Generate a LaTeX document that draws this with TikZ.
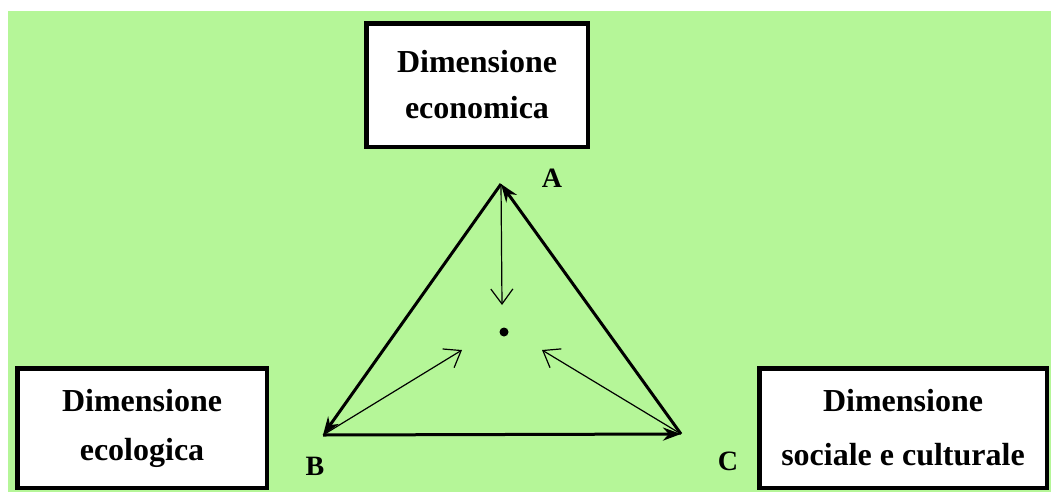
\documentclass[tikz,border=0pt]{standalone}
\usepackage{fontspec}
\setmainfont{Liberation Serif}
\usetikzlibrary{arrows.meta, positioning, calc}
\definecolor{bggreen}{RGB}{181,246,152}

\begin{document}
\begin{tikzpicture}[x=1pt, y=-1pt,
    dimbox/.style={rectangle, draw, line width=4.5pt, fill=white, align=center, inner sep=0pt, font=\fontsize{32}{46}\selectfont\bfseries},
    vlabel/.style={font=\fontsize{28}{30}\selectfont\bfseries},
    sidearrow/.style={-{Stealth[length=18pt, width=13pt]}, line width=3pt},
    inarrow/.style={-{Straight Barb[length=15pt, width=22pt]}, line width=1.2pt}
]

% Background
\useasboundingbox (0,0) rectangle (1051,493);
\fill[white] (0,0) rectangle (1051,493);
\fill[bggreen] (8,11) rectangle (1051,492);

% Nodes
\node[dimbox, minimum width=221.5pt, minimum height=123.5pt] (econ) at (477,85) {Dimensione\\economica};
\node[dimbox, minimum width=249.5pt, minimum height=119.5pt] (ecol) at (142,428) {Dimensione\\[3pt]ecologica};
\node[dimbox, minimum width=287.5pt, minimum height=119.5pt] (soc) at (903,428) {Dimensione\\[8pt]sociale e culturale};

\coordinate (A) at (501,184);
\coordinate (B) at (323,435);
\coordinate (C) at (681,434);
\node[vlabel] (labA) at (552,178) {A};
\node[vlabel] (labB) at (315,466) {B};
\node[vlabel] (labC) at (728,461) {C};

\node[circle, fill, inner sep=0pt, minimum size=9pt] (ctr) at (504,332) {};
\coordinate (tipA) at (502,305);
\coordinate (tipB) at (462,350);
\coordinate (tipC) at (542,350);

% Connections
\draw[sidearrow] (A) -- (B);
\draw[sidearrow] (B) -- (C);
\draw[sidearrow] (C) -- (A);
\draw[inarrow] (A) -- (tipA);
\draw[inarrow] (B) -- (tipB);
\draw[inarrow] (C) -- (tipC);

\end{tikzpicture}
\end{document}
